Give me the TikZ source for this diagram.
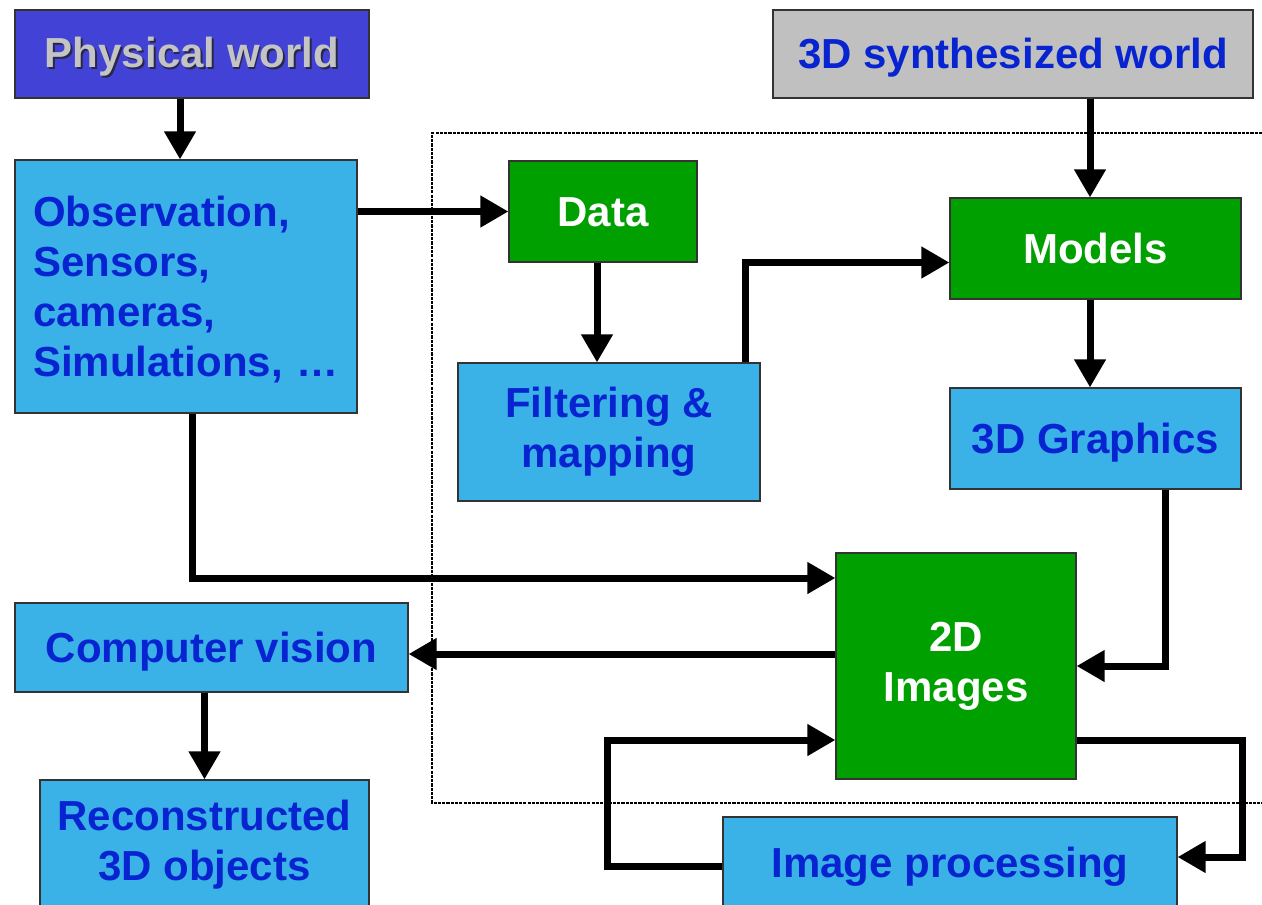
\documentclass[tikz,border=0pt]{standalone}
\usepackage{fontspec}
\setmainfont{Liberation Sans}
\usepackage{tikz}
\usetikzlibrary{arrows.meta, positioning}
\definecolor{physblue}{RGB}{66,66,214}
\definecolor{synthgray}{RGB}{192,192,192}
\definecolor{skyfill}{RGB}{58,178,232}
\definecolor{leafgreen}{RGB}{0,160,0}
\definecolor{inkblue}{RGB}{8,36,208}
\definecolor{ghostgray}{RGB}{196,196,196}
\definecolor{shadowgray}{RGB}{40,40,70}
\tikzstyle{box}=[draw=black!80,line width=0.8pt,rectangle,inner sep=0pt,align=center,font=\fontsize{31.5}{37.5}\selectfont\bfseries,
    execute at begin node={\rule[-6.7pt]{0pt}{35.2pt}},execute at end node={\rule[-6.7pt]{0pt}{6.7pt}}]
\tikzstyle{cyanbox}=[box,fill=skyfill,text=inkblue]
\tikzstyle{greenbox}=[box,fill=leafgreen,text=white]
\tikzstyle{link}=[line width=5.25pt,-{Triangle[width=22.5pt,length=21pt]}]
\tikzstyle{frame}=[line width=1.2pt,dash pattern=on 2.4pt off 0.8pt]
\newcommand{\shadowed}[1]{\makebox[0pt][l]{\hspace{1.3pt}\raisebox{-1.3pt}{\color{shadowgray}#1}}{\color{ghostgray}#1}}

\begin{document}
\begin{tikzpicture}[x=0.75pt,y=-0.75pt]
    \useasboundingbox (0,0) rectangle (1262,904);
    \draw[frame] (1275,133) -| (432,803) -- (1275,803);
    \node[box,fill=physblue,minimum width=265.5pt,minimum height=66pt] (phys) at (192,54) {\shadowed{Physical world}};
    \node[box,fill=synthgray,text=inkblue,minimum width=360pt,minimum height=66pt] (synth) at (1013,54) {3D synthesized world};
    \node[cyanbox,minimum width=256.5pt,minimum height=189.75pt,text width=229.5pt,align=left] (obs) at (186,286.5) {Observation,\\Sensors,\\cameras,\\Simulations, …};
    \node[greenbox,minimum width=141pt,minimum height=75.75pt] (data) at (603,211.5) {Data};
    \node[greenbox,minimum width=218.25pt,minimum height=75.75pt] (models) at (1095.5,248.5) {Models};
    \node[cyanbox,minimum width=226.5pt,minimum height=103.5pt] (filt) at (609,432) {Filtering \&\\mapping};
    \node[cyanbox,minimum width=218.25pt,minimum height=75.75pt] (gfx) at (1095.5,438.5) {3D Graphics};
    \node[greenbox,minimum width=180pt,minimum height=169.5pt] (img) at (956,666) {2D\\Images};
    \node[cyanbox,minimum width=294.75pt,minimum height=66.75pt] (cv) at (211.5,647.5) {Computer vision};
    \node[cyanbox,minimum width=246.75pt,minimum height=97.5pt] (recon) at (204.5,845) {Reconstructed\\3D objects};
    \node[cyanbox,minimum width=340.5pt,minimum height=69pt] (proc) at (950,863) {Image processing};
    \coordinate (rloop) at (1242,800);
    \coordinate (lloop) at (607,800);
    \draw[link] ([xshift=-9pt]phys.south) -- ([xshift=-4.5pt]obs.north);
    \draw[link] (obs.east |- data.west) -- (data.west);
    \draw[link] ([xshift=-4.5pt]data.south) -- ([xshift=-9pt]filt.north);
    \draw[link] ([xshift=102pt]filt.north) |- ([yshift=-10.5pt]models.west);
    \draw[link] ([xshift=57.75pt]synth.south) -- ([xshift=-4.125pt]models.north);
    \draw[link] ([xshift=-4.125pt]models.south) -- ([xshift=-4.125pt]gfx.north);
    \draw[link] ([xshift=52.5pt]gfx.south) |- (img.east);
    \draw[link] ([xshift=4.5pt]obs.south) |- ([yshift=66pt]img.west);
    \draw[link] ([yshift=9pt]img.west) -- ([yshift=-4.875pt]cv.east);
    \draw[link] (recon.north |- cv.south) -- (recon.north);
    \draw[link] ([yshift=-55.5pt]img.east) -| (rloop) |- ([yshift=4.5pt]proc.east);
    \draw[link] ([yshift=-2.25pt]proc.west) -| (lloop) |- ([yshift=-55.5pt]img.west);
\end{tikzpicture}
\end{document}
